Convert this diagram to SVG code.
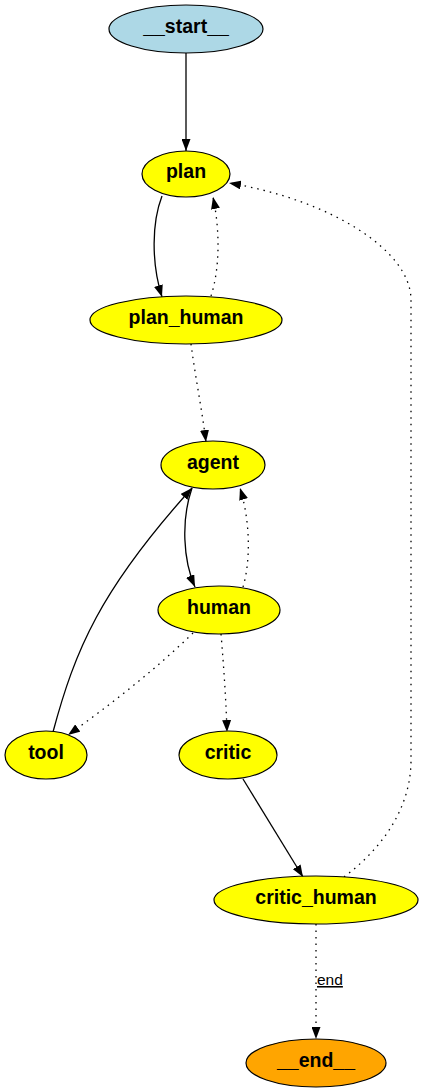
<svg xmlns="http://www.w3.org/2000/svg" width="424" height="1092" viewBox="0 0 424 1092">
<style>
.n{stroke:#000;stroke-width:1.2}
.y{fill:#ffff00}
.t{font-family:"Liberation Sans",Arial,sans-serif;font-weight:bold;font-size:19.5px;text-anchor:middle;fill:#000}
.e{fill:none;stroke:#000;stroke-width:1.3}
.d{stroke-dasharray:1.5,5}
.l{font-family:"Liberation Sans",Arial,sans-serif;font-size:15.5px;fill:#000;text-decoration:underline}
</style>
<defs>
<marker id="a" viewBox="0 0 12 9" refX="12" refY="4.5" markerWidth="12" markerHeight="9" markerUnits="userSpaceOnUse" orient="auto">
<path d="M0,0L12,4.5L0,9z" fill="#000"/>
</marker>
</defs>
<rect width="424" height="1092" fill="#fff"/>
<g id="edges">
<path class="e" d="M186,53L186,151" marker-end="url(#a)"/>
<path class="e" d="M162,196C152,222 151,262 162,297" marker-end="url(#a)"/>
<path class="e d" d="M211,296C220,268 220,230 213,197" marker-end="url(#a)"/>
<path class="e d" d="M344,877C380,850 411,810 411,760L411,300C411,250 330,200 229,183" marker-end="url(#a)"/>
<path class="e d" d="M191,344C195,375 202,410 206,442" marker-end="url(#a)"/>
<path class="e" d="M192,488C181,520 183,560 195,587" marker-end="url(#a)"/>
<path class="e d" d="M243,587C251,560 250,520 240,488" marker-end="url(#a)"/>
<path class="e" d="M53,732C75,650 100,590 192,488" marker-end="url(#a)"/>
<path class="e d" d="M193,633C155,670 110,705 68,735" marker-end="url(#a)"/>
<path class="e d" d="M221,634C224,670 226,700 227,732" marker-end="url(#a)"/>
<path class="e" d="M243,779L303,877" marker-end="url(#a)"/>
<path class="e d" d="M316,924L316,1039" marker-end="url(#a)"/>
<text class="l" x="317" y="985">end</text>
</g>
<g id="__start__"><ellipse class="n" cx="186" cy="29" rx="77" ry="24" fill="#add8e6"/><text class="t" x="186" y="33">__start__</text></g>
<g id="plan"><ellipse class="n y" cx="186" cy="174" rx="44" ry="23"/><text class="t" x="186" y="178">plan</text></g>
<g id="plan_human"><ellipse class="n y" cx="186" cy="320" rx="96" ry="24"/><text class="t" x="186" y="324">plan_human</text></g>
<g id="agent"><ellipse class="n y" cx="213" cy="465" rx="52" ry="24"/><text class="t" x="213" y="469">agent</text></g>
<g id="human"><ellipse class="n y" cx="219" cy="610" rx="61" ry="24"/><text class="t" x="219" y="614">human</text></g>
<g id="tool"><ellipse class="n y" cx="46" cy="755" rx="41" ry="24"/><text class="t" x="46" y="759">tool</text></g>
<g id="critic"><ellipse class="n y" cx="228" cy="755" rx="49" ry="24"/><text class="t" x="228" y="759">critic</text></g>
<g id="critic_human"><ellipse class="n y" cx="316" cy="900" rx="102" ry="24"/><text class="t" x="316" y="904">critic_human</text></g>
<g id="__end__"><ellipse class="n" cx="316" cy="1063" rx="70" ry="24" fill="#ffa500"/><text class="t" x="316" y="1067">__end__</text></g>
</svg>
